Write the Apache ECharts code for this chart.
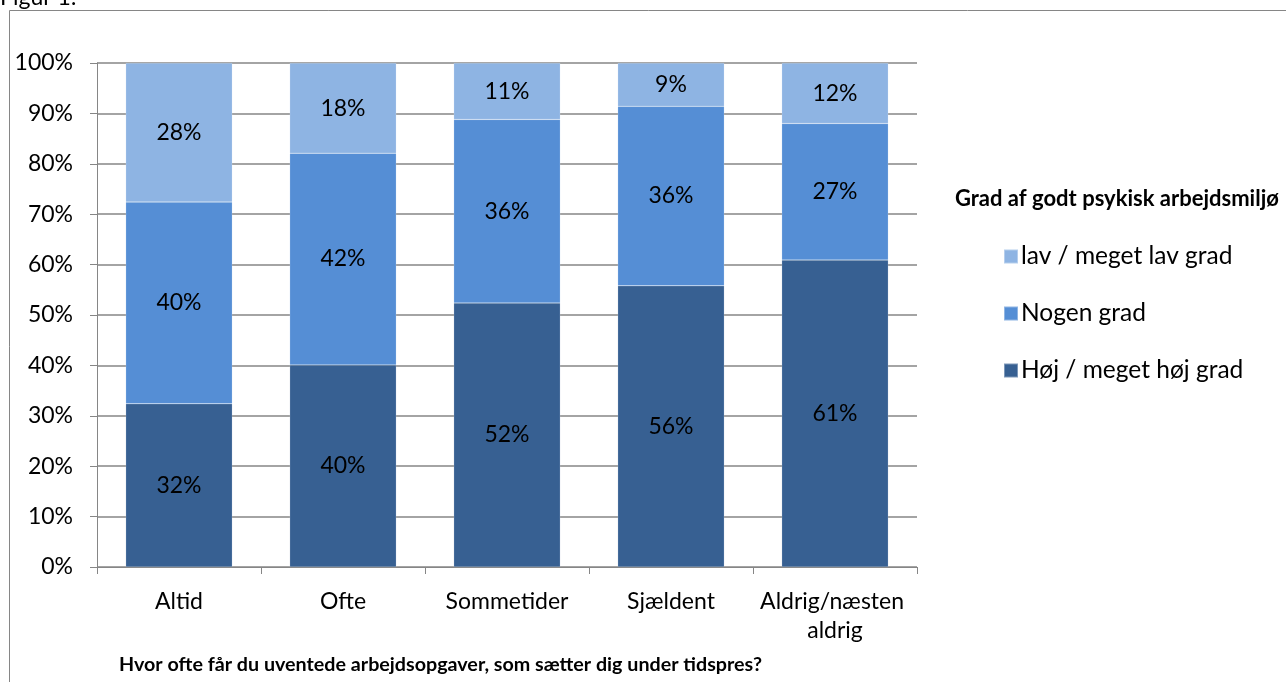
<!DOCTYPE html>
<html>
<head>
<meta charset="utf-8">
<script src="https://cdn.jsdelivr.net/npm/echarts@6/dist/echarts.min.js"></script>
<style>
html,body{margin:0;padding:0;background:#fff;}
#chart{width:1286px;height:682px;}
</style>
</head>
<body>
<div id="chart"></div>
<script>
const categories = ['Altid', 'Ofte', 'Sommetider', 'Sjældent', 'Aldrig/næsten aldrig'];
const hojGrad = [32.4, 40.1, 52.4, 55.8, 60.9];
const nogenGrad = [40.0, 42.0, 36.4, 35.6, 27.1];
const lavGrad = [27.6, 17.9, 11.2, 8.6, 12.0];
const seriesNames = ['Høj / meget høj grad', 'Nogen grad', 'lav / meget lav grad'];
const yTicks = [0, 10, 20, 30, 40, 50, 60, 70, 80, 90, 100];
const legendTitle = 'Grad af godt psykisk arbejdsmiljø';
const xTitle = 'Hvor ofte får du uventede arbejdsopgaver, som sætter dig under tidspres?';
const figTitle = 'Figur 1:';

const FONT = 'Lato';
const colors = ['#376092', '#558ED5', '#8EB4E3'];
const chart = echarts.init(document.getElementById('chart'), null, {renderer: 'canvas'});

function mkSeries(name, data, color) {
  return {
    name: name, type: 'bar', stack: 'total', data: data, barWidth: '65%',
    itemStyle: {color: color, borderColor: 'rgba(255,255,255,0.35)', borderWidth: 0.5},
    label: {show: true, position: 'inside', color: '#000', fontFamily: FONT, fontSize: 23,
      formatter: p => Math.round(p.value) + '%'}
  };
}

chart.setOption({
  animation: false,
  backgroundColor: '#fff',
  color: colors,
  textStyle: {fontFamily: FONT},
  graphic: [
    {type: 'rect', shape: {x: 9.5, y: 10.5, width: 1300, height: 700}, style: {fill: 'none', stroke: '#868686', lineWidth: 1}, silent: true},
    {type: 'text', left: 0, top: -14, style: {text: figTitle, fontFamily: FONT, fontSize: 23, fill: '#000'}}
  ],
  title: [
    {text: legendTitle, left: 955, top: 188, padding: 0, textStyle: {fontFamily: FONT, fontSize: 22, fontWeight: 'bold', color: '#000'}},
    {text: xTitle, left: 119, top: 655, padding: 0, textStyle: {fontFamily: FONT, fontSize: 19.7, fontWeight: 'bold', color: '#000'}}
  ],
  legend: {
    orient: 'vertical', left: 998, top: 239, itemWidth: 14, itemHeight: 14, itemGap: 32,
    icon: 'rect',
    data: [seriesNames[2], seriesNames[1], seriesNames[0]],
    textStyle: {fontFamily: FONT, fontSize: 24.5, color: '#000', padding: [0, 0, 0, -2]}
  },
  grid: {left: 97, right: 369, top: 63, bottom: 115, containLabel: false},
  xAxis: {
    type: 'category', data: categories,
    axisLine: {lineStyle: {color: '#868686', width: 1}},
    axisTick: {show: true, length: 7, lineStyle: {color: '#868686'}},
    axisLabel: {color: '#000', fontFamily: FONT, fontSize: 23, margin: 20, lineHeight: 29, width: 160, overflow: 'break', interval: 0}
  },
  yAxis: {
    type: 'value', min: yTicks[0], max: yTicks[yTicks.length - 1], interval: 10,
    axisLine: {show: true, lineStyle: {color: '#868686'}},
    axisTick: {show: true, length: 7, lineStyle: {color: '#868686'}},
    splitLine: {lineStyle: {color: '#868686', width: 1.5}},
    axisLabel: {color: '#000', fontFamily: FONT, fontSize: 23, margin: 24, formatter: v => v + '%'}
  },
  series: [
    mkSeries(seriesNames[0], hojGrad, colors[0]),
    mkSeries(seriesNames[1], nogenGrad, colors[1]),
    mkSeries(seriesNames[2], lavGrad, colors[2])
  ]
});
</script>
</body>
</html>
